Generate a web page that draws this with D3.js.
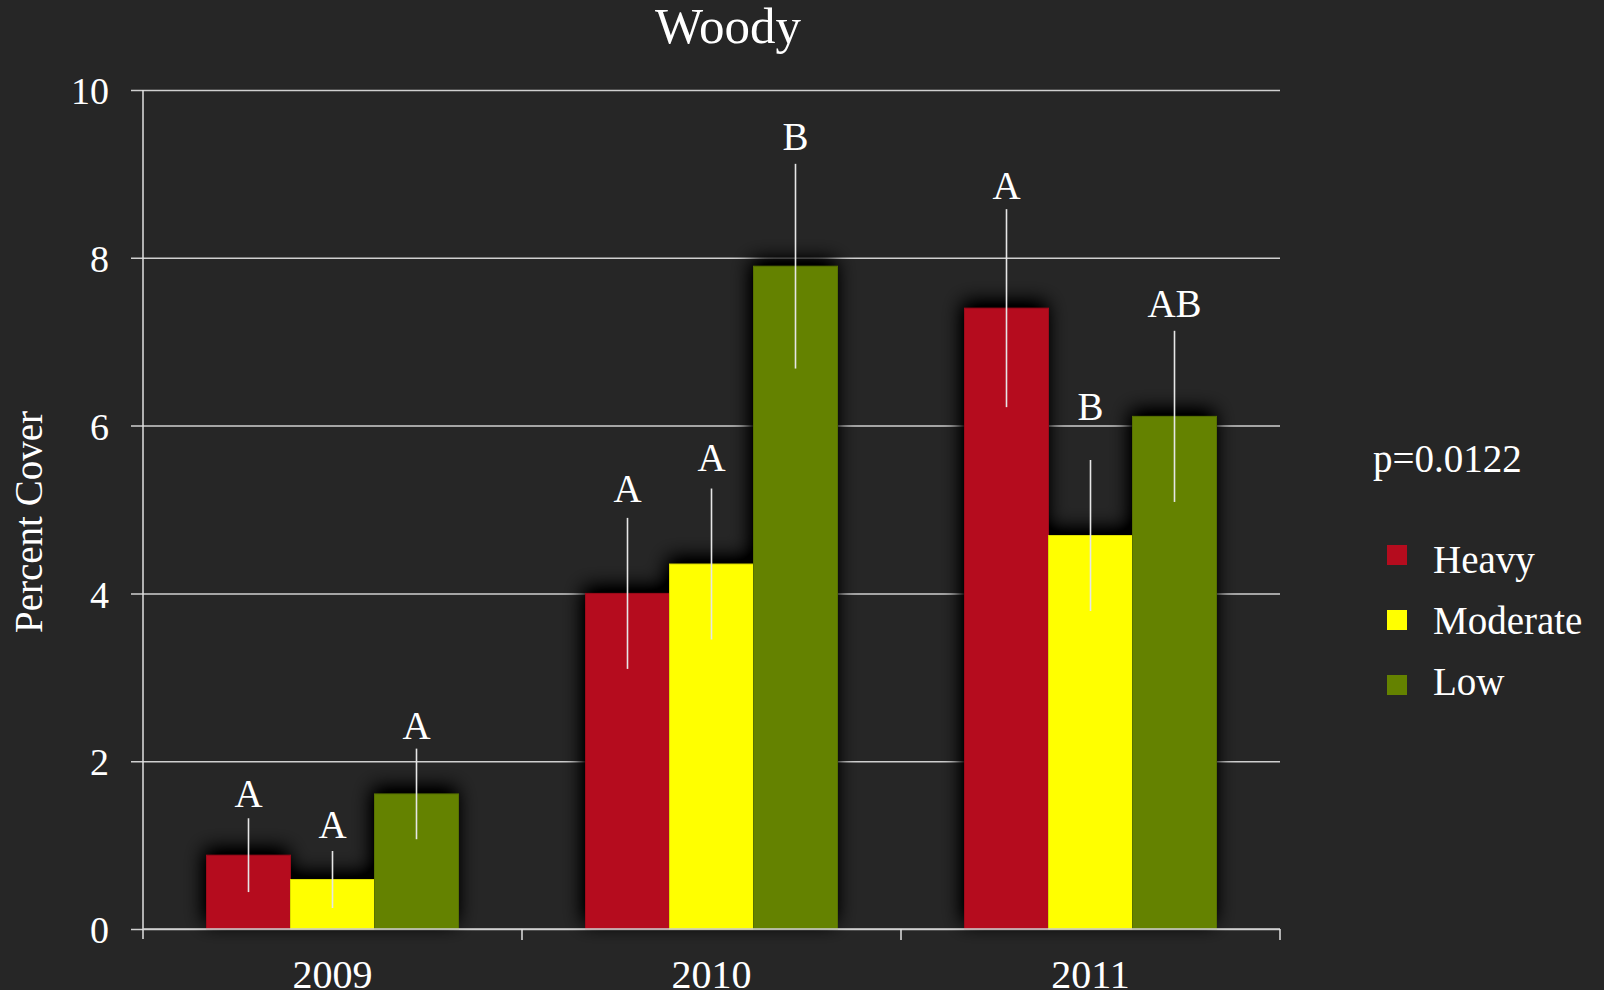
<!DOCTYPE html>
<html>
<head>
<meta charset="utf-8">
<script src="https://cdn.jsdelivr.net/npm/d3@7"></script>
<style>
  html, body { margin: 0; padding: 0; background: #262626; }
  svg { display: block; }
  text { font-family: "Liberation Serif", "Times New Roman", serif; fill: #ffffff; }
</style>
</head>
<body>
<svg id="chart" width="1604" height="990"></svg>
<script>
// ---- data ----
const years = ["2009", "2010", "2011"];
const series = ["Heavy", "Moderate", "Low"];
const heavy = [0.88, 4.00, 7.40];
const moderate = [0.59, 4.35, 4.69];
const low = [1.61, 7.90, 6.11];
const heavyErr = [0.44, 0.90, 1.18];
const moderateErr = [0.34, 0.90, 0.90];
const lowErr = [0.54, 1.22, 1.02];
const heavyLetters = ["A", "A", "A"];
const moderateLetters = ["A", "A", "B"];
const lowLetters = ["A", "B", "AB"];
// value level (in percent cover units) at which each letter's baseline sits
const heavyLetterAt = [1.46, 5.09, 8.70];
const moderateLetterAt = [1.08, 5.46, 6.07];
const lowLetterAt = [2.26, 9.29, 7.30];
const yTicks = [0, 2, 4, 6, 8, 10];
const title = "Woody";
const yTitle = "Percent Cover";
const pText = "p=0.0122";
const colors = ["#b50c1e", "#ffff00", "#648200"];

(function () {
// ---- build rows ----
const values = [heavy, moderate, low];
const errs = [heavyErr, moderateErr, lowErr];
const letters = [heavyLetters, moderateLetters, lowLetters];
const letterAt = [heavyLetterAt, moderateLetterAt, lowLetterAt];
const rows = [];
years.forEach((yr, i) => {
  series.forEach((s, j) => {
    rows.push({ year: yr, series: s, value: values[j][i], err: errs[j][i],
                letter: letters[j][i], letterAt: letterAt[j][i], color: colors[j] });
  });
});

// ---- layout ----
const svg = d3.select("#chart");
const mLeft = 143, mRight = 1280, mTop = 90, mBottom = 929;

const x0 = d3.scaleBand().domain(years).range([mLeft, mRight]).padding(0);
const x1 = d3.scaleBand().domain(series).range([0, x0.bandwidth()])
  .paddingInner(0).paddingOuter(0.756);
const y = d3.scaleLinear().domain([0, 10]).range([mBottom, mTop]);

const defs = svg.append("defs");
const f = defs.append("filter").attr("id", "shadow")
  .attr("x", "-50%").attr("y", "-50%").attr("width", "200%").attr("height", "200%");
f.append("feGaussianBlur").attr("in", "SourceAlpha").attr("stdDeviation", 10).attr("result", "b");
f.append("feOffset").attr("in", "b").attr("dx", -2).attr("dy", -6).attr("result", "o");
f.append("feComponentTransfer").attr("in", "o").attr("result", "s")
  .append("feFuncA").attr("type", "linear").attr("slope", 1.6);
const fm = f.append("feMerge");
fm.append("feMergeNode").attr("in", "s");

// gridlines + y ticks
const yAxis = d3.axisLeft(y).tickValues(yTicks).tickSize(-(mRight - mLeft) - 12).tickPadding(22)
  .tickFormat(d3.format("d"));
const gy = svg.append("g").attr("transform", `translate(${mLeft - 12},0)`).call(yAxis);
gy.select(".domain").remove();
gy.selectAll(".tick line").attr("stroke", "#d0d0d0").attr("stroke-width", 1.5);
gy.selectAll(".tick text").attr("font-size", 38).attr("fill", "#fff")
  .attr("font-family", "Liberation Serif, serif").attr("dy", "0.36em");

// bar shadows
svg.append("g").attr("filter", "url(#shadow)")
  .selectAll("rect").data(rows).join("rect")
  .attr("x", d => x0(d.year) + x1(d.series))
  .attr("y", d => y(d.value))
  .attr("width", x1.bandwidth())
  .attr("height", d => y(0) - y(d.value))
  .attr("fill", "#000");

// bars
svg.append("g").selectAll("rect").data(rows).join("rect")
  .attr("x", d => x0(d.year) + x1(d.series))
  .attr("y", d => y(d.value))
  .attr("width", x1.bandwidth())
  .attr("height", d => y(0) - y(d.value))
  .attr("fill", d => d.color)
  .attr("stroke", d => d3.color(d.color).darker(0.4))
  .attr("stroke-width", 1);

// y axis line
svg.append("line").attr("x1", mLeft).attr("x2", mLeft).attr("y1", mTop).attr("y2", mBottom + 10)
  .attr("stroke", "#e0e0e0").attr("stroke-width", 1.5);

// x axis
const xAxis = d3.axisBottom(x0).tickSize(0).tickPadding(42);
const gx = svg.append("g").attr("transform", `translate(0,${mBottom})`).call(xAxis);
gx.select(".domain").remove();
gx.selectAll(".tick text").attr("font-size", 40).attr("fill", "#fff")
  .attr("font-family", "Liberation Serif, serif").attr("dy", "0.71em").attr("y", 31);
svg.append("line").attr("x1", mLeft).attr("x2", mRight).attr("y1", mBottom).attr("y2", mBottom)
  .attr("stroke", "#d0d0d0").attr("stroke-width", 1.5);
// boundary ticks
const bounds = years.map(yr => x0(yr)).concat([x0(years[years.length - 1]) + x0.bandwidth()]);
svg.append("g").selectAll("line").data(bounds.slice(1)).join("line")
  .attr("x1", d => d).attr("x2", d => d).attr("y1", mBottom).attr("y2", mBottom + 11)
  .attr("stroke", "#e0e0e0").attr("stroke-width", 1.5);

// error bars
svg.append("g").selectAll("line").data(rows).join("line")
  .attr("x1", d => x0(d.year) + x1(d.series) + x1.bandwidth() / 2)
  .attr("x2", d => x0(d.year) + x1(d.series) + x1.bandwidth() / 2)
  .attr("y1", d => y(d.value + d.err))
  .attr("y2", d => y(d.value - d.err))
  .attr("stroke", "#e6e6e6").attr("stroke-width", 1.6);

// significance letters
svg.append("g").selectAll("text").data(rows).join("text")
  .attr("x", d => x0(d.year) + x1(d.series) + x1.bandwidth() / 2)
  .attr("y", d => y(d.letterAt))
  .attr("text-anchor", "middle")
  .attr("font-size", 39)
  .text(d => d.letter);

// title
svg.append("text").attr("x", 728).attr("y", 43).attr("text-anchor", "middle")
  .attr("font-size", 51).text(title);

// y title
svg.append("text").attr("transform", `translate(42,522) rotate(-90)`)
  .attr("text-anchor", "middle").attr("font-size", 39).text(yTitle);

// legend
svg.append("text").attr("x", 1373).attr("y", 472).attr("font-size", 39).text(pText);
const lg = svg.append("g").selectAll("g").data(series).join("g");
lg.append("rect").attr("x", 1387).attr("y", (d, i) => 545 + i * 65)
  .attr("width", 20).attr("height", 20).attr("fill", (d, i) => colors[i]);
lg.append("text").attr("x", 1433).attr("y", (d, i) => 573 + i * 61)
  .attr("font-size", 39).text(d => d);
})();
</script>
</body>
</html>
